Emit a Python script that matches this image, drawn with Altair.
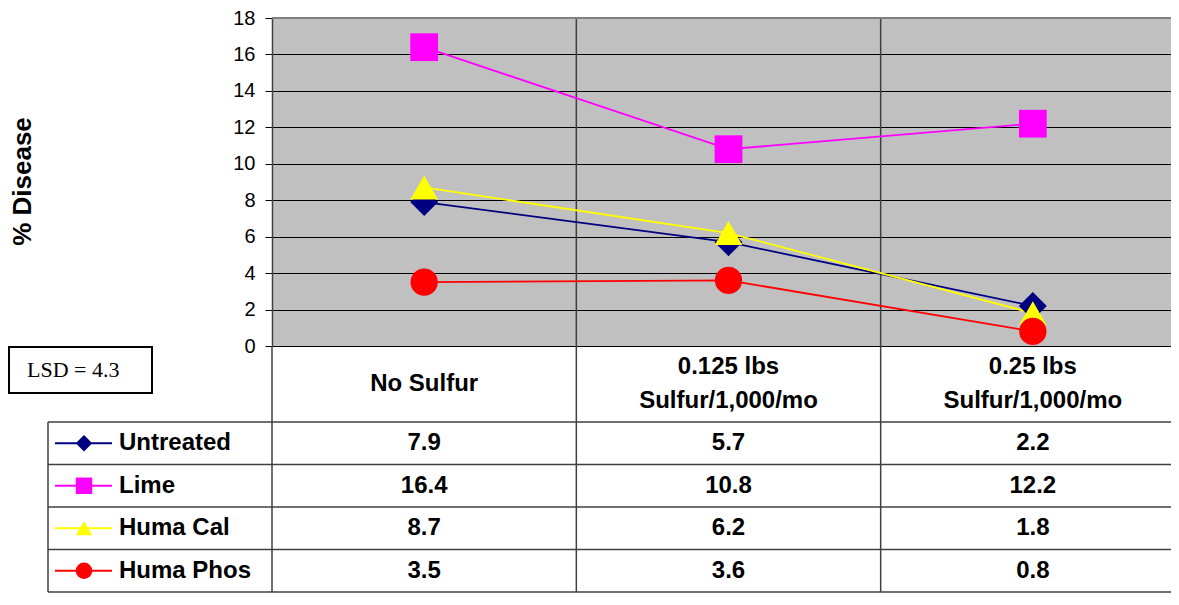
import altair as alt
import pandas as pd

# ---------------- data ----------------
categories = ["No Sulfur", "0.125 lbs\nSulfur/1,000/mo", "0.25 lbs\nSulfur/1,000/mo"]
series = ["Untreated", "Lime", "Huma Cal", "Huma Phos"]
untreated = [7.9, 5.7, 2.2]
lime = [16.4, 10.8, 12.2]
huma_cal = [8.7, 6.2, 1.8]
huma_phos = [3.5, 3.6, 0.8]
y_ticks = [0, 2, 4, 6, 8, 10, 12, 14, 16, 18]
y_title = "% Disease"
lsd_label = ["LSD = 4.3"]

# ---------------- styles ----------------
colors = ["#000080", "#FF00FF", "#FFFF00", "#FF0000"]
shapes = ["diamond", "square", "triangle-up", "circle"]
sizes = [784, 745, 961, 760]
FONT = "Liberation Sans"
GRID = "#404040"

# ---------------- layout (pixels, relative to plot origin) ----------------
PW, PH = 899, 328          # visible plot area
XR = 913                   # full category span (right edge lies past the page)
HDR = 76                   # header row height
ROWH = 42.5                # data row height
LINEH = 34                 # header line height
LEG_LEFT = -224

values = [untreated, lime, huma_cal, huma_phos]
recs = []
for si, s in enumerate(series):
    for ci, c in enumerate(categories):
        recs.append({"series": s, "xpos": ci + 0.5, "value": values[si][ci], "row": si + 1.5})
df = pd.DataFrame(recs)
leg_df = pd.DataFrame({"series": series, "row": [i + 1.5 for i in range(len(series))]})
# vertically centre multi-line header labels within the header row
hdr_df = pd.DataFrame({
    "cat": categories,
    "xpos": [i + 0.5 for i in range(len(categories))],
    "r": [0.5 - (c.count("\n")) * 0.5 * LINEH / HDR for c in categories],
})
nrow_edges = len(series) + 1

xs = alt.Scale(domain=[0, len(categories)], range=[0, XR], nice=False, zero=False)
ys = alt.Scale(domain=[y_ticks[0], y_ticks[-1]], nice=False, zero=False)
rs = alt.Scale(domain=[0, 1, nrow_edges], range=[PH, PH + HDR, PH + HDR + ROWH * len(series)],
               nice=False, zero=False)
color = alt.Color("series:N", scale=alt.Scale(domain=series, range=colors), legend=None)
shape = alt.Shape("series:N", scale=alt.Scale(domain=series, range=shapes), legend=None)

yaxis = alt.Axis(values=y_ticks, title=y_title, titleFont=FONT, titleFontSize=26, titleFontWeight="bold",
                 titleColor="black", titleAngle=270, titleX=-250, titleY=163, titleBaseline="middle",
                 titleAlign="center", labelFont=FONT, labelFontSize=20, labelColor="black",
                 labelPadding=10, labelFlush=False, labelOverlap=False, tickSize=7, tickColor="black",
                 tickWidth=1, domainColor=GRID, domainWidth=1.5, grid=True, gridColor="black",
                 gridWidth=1, gridOpacity=1)

# ---------------- plot layers ----------------
vsep = alt.Chart(pd.DataFrame({"xb": list(range(1, len(categories)))})).mark_rule(
    color=GRID, strokeWidth=1.5).encode(x=alt.X("xb:Q", scale=xs, axis=None))
topb = alt.Chart(pd.DataFrame({"yv": [y_ticks[-1]]})).mark_rule(color="#808080", strokeWidth=2).encode(
    x=alt.value(0), x2=alt.value(XR), y=alt.Y("yv:Q", scale=ys, axis=yaxis))
lines = alt.Chart(df).mark_line(strokeWidth=1.8).encode(
    x=alt.X("xpos:Q", scale=xs, axis=None), y=alt.Y("value:Q", scale=ys, axis=yaxis),
    color=color, order="xpos:Q")
points = alt.Chart(df).mark_point(filled=True, opacity=1).encode(
    x=alt.X("xpos:Q", scale=xs, axis=None), y=alt.Y("value:Q", scale=ys, axis=yaxis),
    color=color, shape=shape,
    size=alt.Size("series:N", scale=alt.Scale(domain=series, range=sizes), legend=None))
plot = alt.layer(vsep, topb, lines, points)

# ---------------- table layers ----------------
hlines = alt.Chart(pd.DataFrame({"r": list(range(1, nrow_edges + 1))})).mark_rule(
    color=GRID, strokeWidth=1.5).encode(x=alt.value(LEG_LEFT), x2=alt.value(XR),
                                        y=alt.Y("r:Q", scale=rs, axis=None))
vtab = alt.Chart(pd.DataFrame({"xb": list(range(len(categories) + 1)), "r0": 0, "r1": nrow_edges})).mark_rule(
    color=GRID, strokeWidth=1.5).encode(x=alt.X("xb:Q", scale=xs, axis=None),
                                        y=alt.Y("r0:Q", scale=rs, axis=None), y2="r1:Q")
vleg = alt.Chart(pd.DataFrame({"r0": [1], "r1": [nrow_edges]})).mark_rule(
    color=GRID, strokeWidth=1.5).encode(x=alt.value(LEG_LEFT), y=alt.Y("r0:Q", scale=rs, axis=None), y2="r1:Q")
hdr = alt.Chart(hdr_df).mark_text(font=FONT, fontSize=24, fontWeight="bold", lineBreak="\n", lineHeight=LINEH,
                                  baseline="middle", align="center", color="black").encode(
    x=alt.X("xpos:Q", scale=xs, axis=None), y=alt.Y("r:Q", scale=rs, axis=None), text="cat:N")
vals = alt.Chart(df).mark_text(font=FONT, fontSize=24, fontWeight="bold", baseline="middle",
                               align="center", color="black").encode(
    x=alt.X("xpos:Q", scale=xs, axis=None), y=alt.Y("row:Q", scale=rs, axis=None),
    text=alt.Text("value:Q", format=".1f"))
legline = alt.Chart(leg_df).mark_rule(strokeWidth=1.8).encode(
    x=alt.value(-217), x2=alt.value(-160), y=alt.Y("row:Q", scale=rs, axis=None), color=color)
legpt = alt.Chart(leg_df).mark_point(filled=True, opacity=1, size=270).encode(
    x=alt.value(-188), y=alt.Y("row:Q", scale=rs, axis=None), color=color, shape=shape)
legtxt = alt.Chart(leg_df).mark_text(font=FONT, fontSize=24, fontWeight="bold", baseline="middle",
                                     align="left", color="black").encode(
    x=alt.value(-153), y=alt.Y("row:Q", scale=rs, axis=None), text="series:N")
lsd_box = alt.Chart(pd.DataFrame({"label": lsd_label})).mark_rect(
    fill="white", stroke="black", strokeWidth=2).encode(
    x=alt.value(-263), x2=alt.value(-120), y=alt.value(PH + 1), y2=alt.value(PH + 47))
lsd_txt = alt.Chart(pd.DataFrame({"label": lsd_label})).mark_text(
    font="Liberation Serif", fontSize=22, align="left", baseline="alphabetic", color="black").encode(
    x=alt.value(-245), y=alt.value(PH + 31), text="label:N")
table = alt.layer(hlines, vtab, vleg, hdr, vals, legline, legpt, legtxt, lsd_box, lsd_txt)

chart = alt.layer(plot, table).resolve_scale(y="independent").properties(
    width=PW, height=PH, autosize=alt.AutoSizeParams(type="none"),
    padding={"left": 264, "top": 10, "right": 0, "bottom": 247},
    background="white",
).configure_view(fill="#C0C0C0", stroke="transparent")

chart.save("out.html", embed_options={"renderer": "svg", "actions": False})
